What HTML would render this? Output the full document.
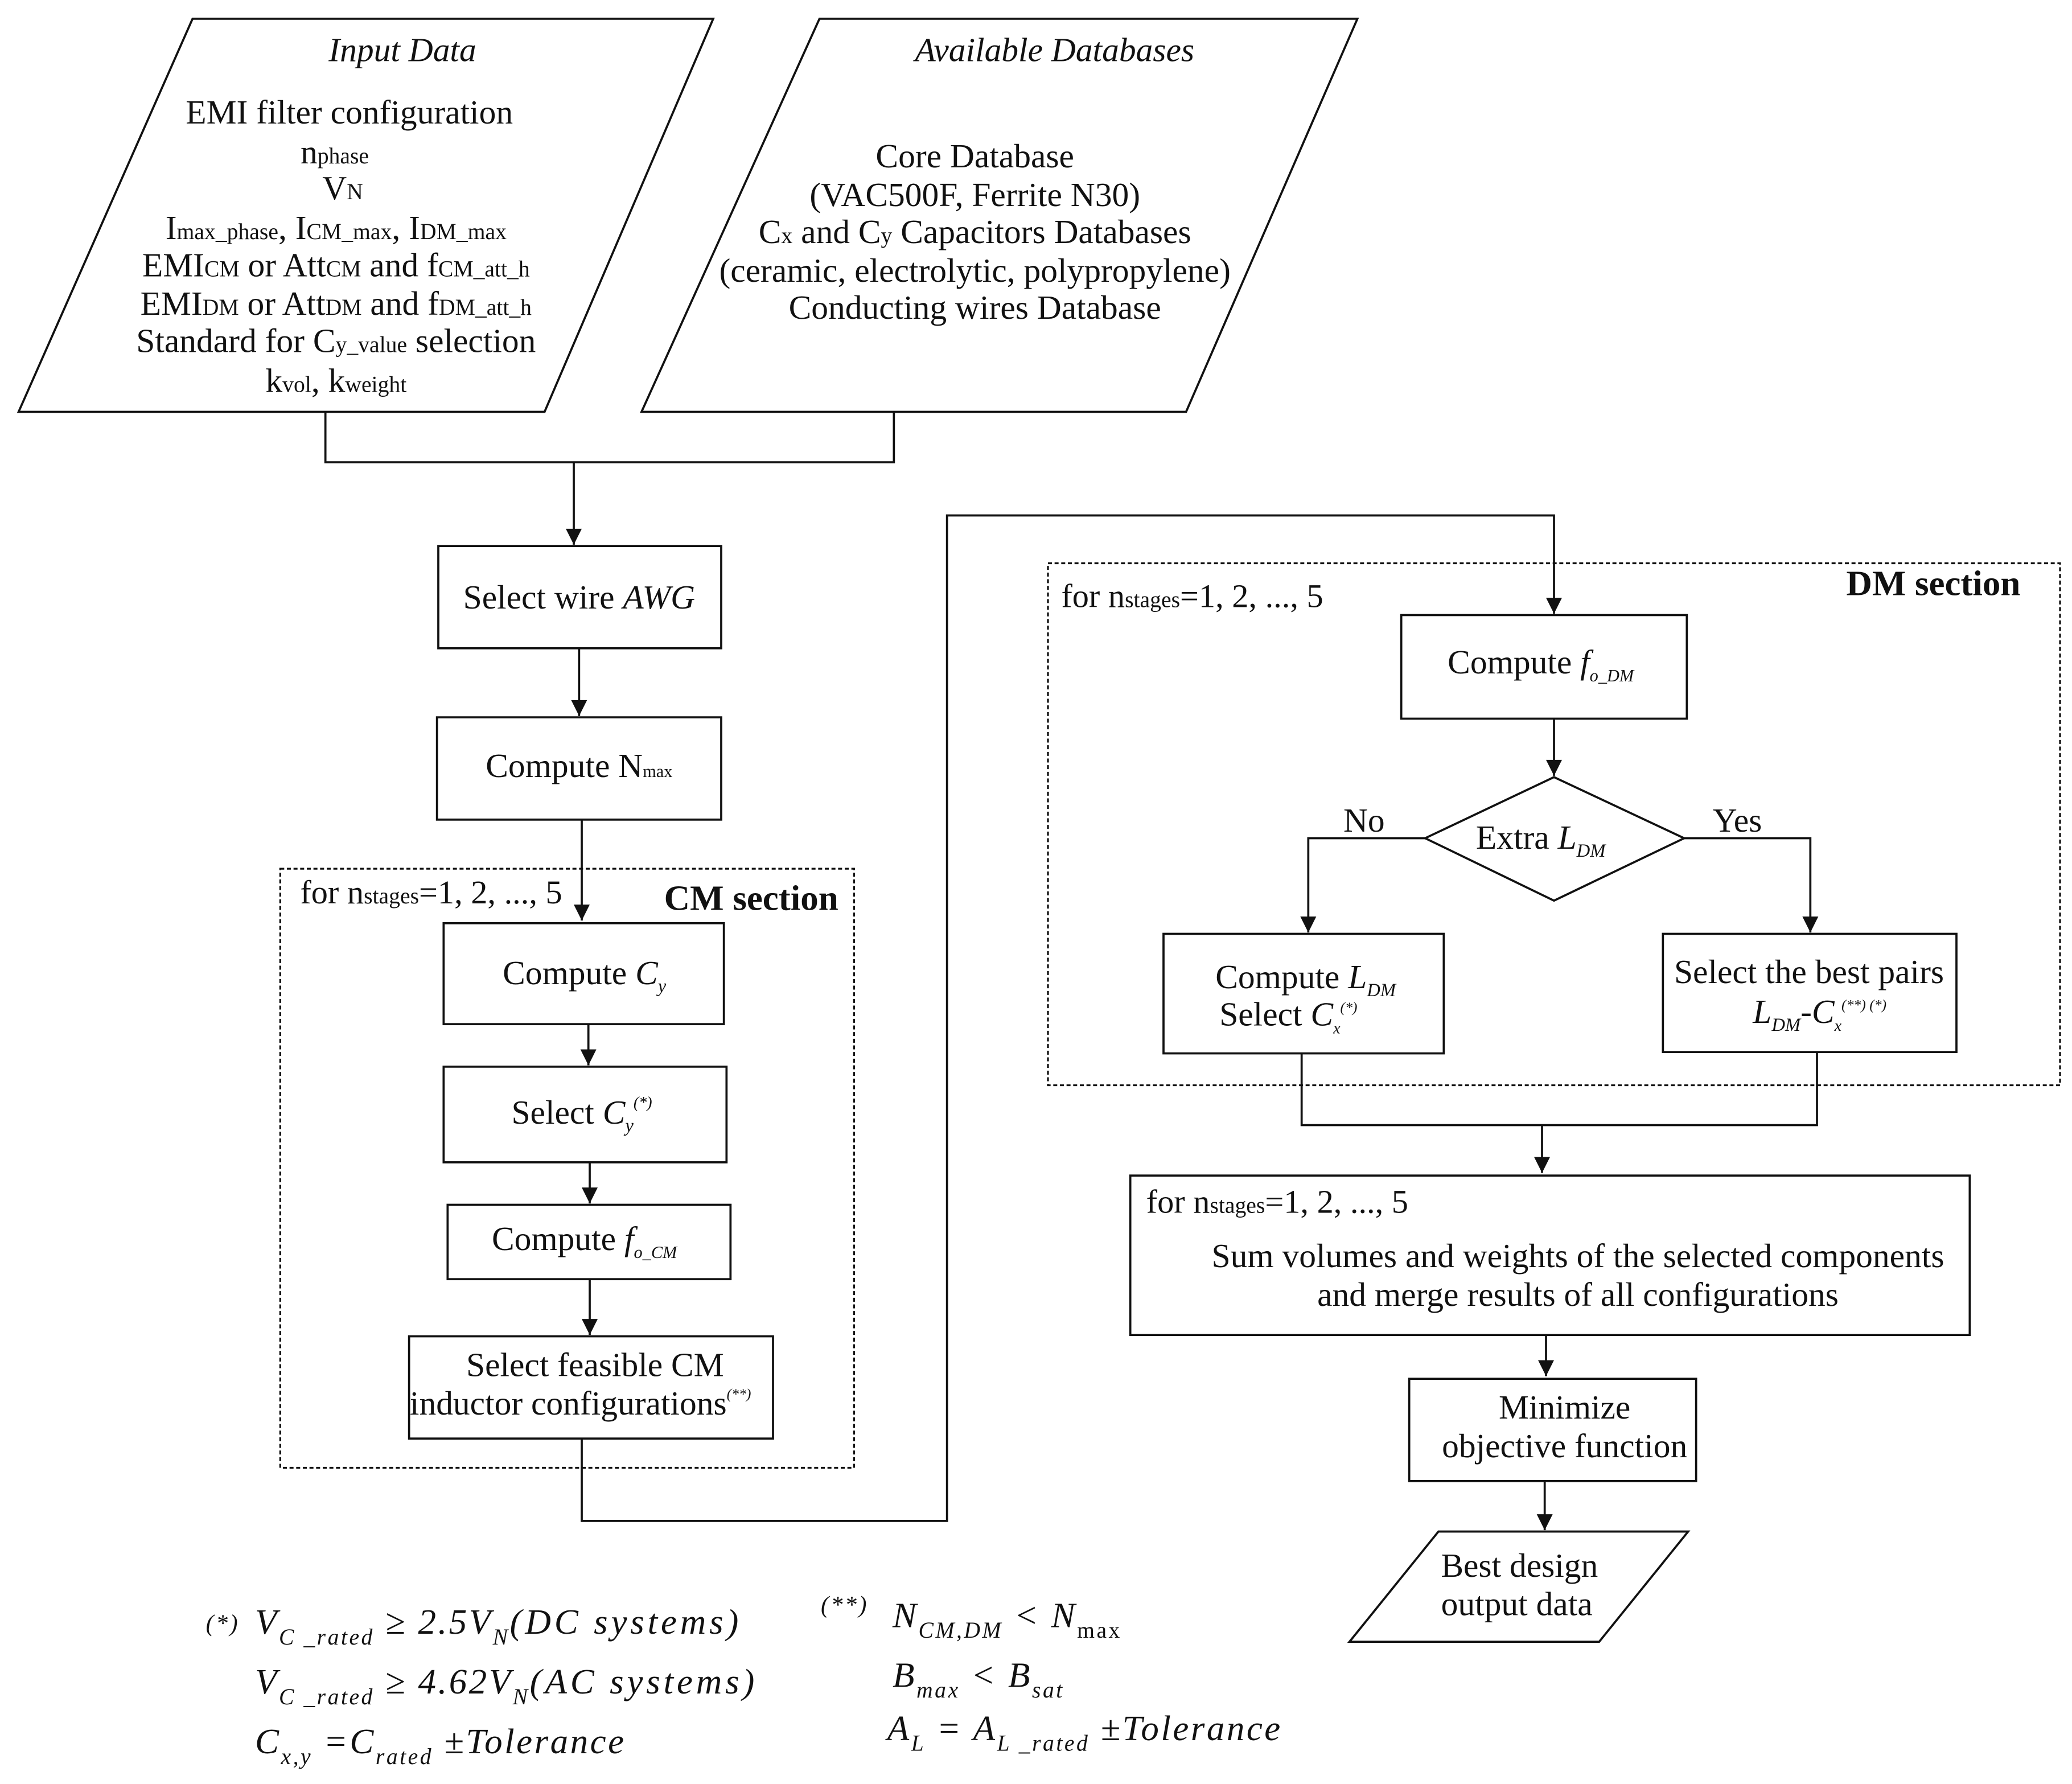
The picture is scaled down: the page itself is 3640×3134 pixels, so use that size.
<!DOCTYPE html>
<html><head><meta charset="utf-8"><style>
html,body{margin:0;padding:0;background:#fff;}
svg{display:block}
text{font-family:"Liberation Serif",serif;fill:#111;}
</style></head><body>
<svg width="3640" height="3134" viewBox="0 0 1560 1343" xmlns="http://www.w3.org/2000/svg">
<defs>
<marker id="b" viewBox="0 0 10 10" refX="10" refY="5" markerWidth="14" markerHeight="12" orient="auto" markerUnits="userSpaceOnUse"><path d="M0,0L10,5L0,10z" fill="#111"/></marker></defs>
<g fill="none" stroke="#111" stroke-width="1.6">
<polygon points="145,14 537,14 410,310 14,310"/>
<polygon points="617,14 1022,14 893,310 483,310"/>
<polyline points="245,310 245,348 673,348 673,310"/>
<line x1="432" y1="348" x2="432" y2="410" marker-end="url(#b)"/>
<rect x="330" y="411" width="213" height="77"/>
<line x1="436" y1="488" x2="436" y2="539" marker-end="url(#b)"/>
<rect x="329" y="540" width="214" height="77"/>
<line x1="438" y1="617" x2="438" y2="693" marker-end="url(#b)"/>
<rect x="211" y="654" width="432" height="451" stroke-dasharray="3,2" stroke-width="1.4"/>
<rect x="334" y="695" width="211" height="76"/>
<line x1="443" y1="771" x2="443" y2="802" marker-end="url(#b)"/>
<rect x="334" y="803" width="213" height="72"/>
<line x1="444" y1="875" x2="444" y2="906" marker-end="url(#b)"/>
<rect x="337" y="907" width="213" height="56"/>
<line x1="444" y1="963" x2="444" y2="1005" marker-end="url(#b)"/>
<rect x="308" y="1006" width="274" height="77"/>
<polyline points="438,1083 438,1145 713,1145 713,388 1170,388 1170,462" marker-end="url(#b)"/>
<rect x="789" y="424" width="762" height="393" stroke-dasharray="3,2" stroke-width="1.4"/>
<rect x="1055" y="463" width="215" height="78"/>
<line x1="1170" y1="541" x2="1170" y2="584" marker-end="url(#b)"/>
<polygon points="1170,585 1268,631 1170,678 1073,631"/>
<polyline points="1073,631 985,631 985,702" marker-end="url(#b)"/>
<polyline points="1268,631 1363,631 1363,702" marker-end="url(#b)"/>
<rect x="876" y="703" width="211" height="90"/>
<rect x="1252" y="703" width="221" height="89"/>
<polyline points="980,793 980,847 1368,847 1368,792"/>
<line x1="1161" y1="847" x2="1161" y2="883" marker-end="url(#b)"/>
<rect x="851" y="885" width="632" height="120"/>
<line x1="1164" y1="1005" x2="1164" y2="1036" marker-end="url(#b)"/>
<rect x="1061" y="1038" width="216" height="77"/>
<line x1="1163" y1="1115" x2="1163" y2="1152" marker-end="url(#b)"/>
<polygon points="1083,1153 1271,1153 1204,1236 1016,1236"/>
</g>
<g font-size="25.5" text-anchor="middle">
<text x="303" y="46" font-style="italic">Input Data</text>
<text x="263" y="93">EMI filter configuration</text>
<text x="252" y="123">n<tspan font-size="17">phase</tspan></text>
<text x="258" y="150">V<tspan font-size="17">N</tspan></text>
<text x="253" y="180">I<tspan font-size="17">max_phase</tspan>, I<tspan font-size="17">CM_max</tspan>, I<tspan font-size="17">DM_max</tspan></text>
<text x="253" y="208">EMI<tspan font-size="17">CM</tspan> or Att<tspan font-size="17">CM</tspan> and f<tspan font-size="17">CM_att_h</tspan></text>
<text x="253" y="237">EMI<tspan font-size="17">DM</tspan> or Att<tspan font-size="17">DM</tspan> and f<tspan font-size="17">DM_att_h</tspan></text>
<text x="253" y="265">Standard for C<tspan font-size="17">y_value</tspan> selection</text>
<text x="253" y="295">k<tspan font-size="17">vol</tspan>, k<tspan font-size="17">weight</tspan></text>
<text x="794" y="46" font-style="italic">Available Databases</text>
<text x="734" y="126">Core Database</text>
<text x="734" y="155">(VAC500F, Ferrite N30)</text>
<text x="734" y="183">C<tspan font-size="17">x</tspan> and C<tspan font-size="17">y</tspan> Capacitors Databases</text>
<text x="734" y="212">(ceramic, electrolytic, polypropylene)</text>
<text x="734" y="240">Conducting wires Database</text>
<text x="436" y="458">Select wire <tspan font-style="italic">AWG</tspan></text>
<text x="436" y="585">Compute N<tspan font-size="13">max</tspan></text>
<text x="440" y="741">Compute <tspan font-style="italic">C<tspan font-size="14" dy="6">y</tspan></tspan></text>
<text x="438" y="846">Select <tspan font-style="italic">C<tspan font-size="14" dy="6">y</tspan><tspan font-size="12" dy="-18">(*)</tspan></tspan></text>
<text x="440" y="941">Compute <tspan font-style="italic">f<tspan font-size="13" dy="6">o_CM</tspan></tspan></text>
<text x="448" y="1036">Select feasible CM</text>
<text x="437" y="1065">inductor configurations<tspan font-size="11" font-style="italic" dy="-12">(**)</tspan></text>
<text x="1160" y="507">Compute <tspan font-style="italic">f<tspan font-size="13" dy="6">o_DM</tspan></tspan></text>
<text x="1160" y="639">Extra  <tspan font-style="italic">L<tspan font-size="14" dy="6">DM</tspan></tspan></text>
<text x="1027" y="626">No</text>
<text x="1308" y="626">Yes</text>
<text x="983" y="744">Compute  <tspan font-style="italic">L<tspan font-size="14" dy="6">DM</tspan></tspan></text>
<text x="970" y="772">Select <tspan font-style="italic">C<tspan font-size="12" dy="6">x</tspan><tspan font-size="11" dy="-16">(*)</tspan></tspan></text>
<text x="1362" y="740">Select the best pairs</text>
<text x="1370" y="770" font-style="italic">L<tspan font-size="14" dy="6">DM</tspan><tspan dy="-6">-C</tspan><tspan font-size="12" dy="6">x</tspan><tspan font-size="11" dy="-16">(**) (*)</tspan></text>
<text x="1188" y="954">Sum volumes and weights of the selected components</text>
<text x="1188" y="983">and merge results of all configurations</text>
<text x="1178" y="1068">Minimize</text>
<text x="1178" y="1097">objective function</text>
<text x="1144" y="1187">Best design</text>
<text x="1142" y="1216">output data</text>
</g>
<g font-size="25">
<text x="226" y="680">for n<tspan font-size="17">stages</tspan>=1, 2, ..., 5</text>
<text x="500" y="685" font-weight="bold" font-size="27">CM section</text>
<text x="799" y="457">for n<tspan font-size="17">stages</tspan>=1, 2, ..., 5</text>
<text x="1390" y="448" font-weight="bold" font-size="27">DM section</text>
<text x="863" y="913">for n<tspan font-size="17">stages</tspan>=1, 2, ..., 5</text>
</g>
<g font-size="27" font-style="italic" letter-spacing="1.5">
<text x="155" y="1228" font-size="18">(*)</text>
<text x="192" y="1230">V<tspan font-size="17" dy="8">C _rated</tspan><tspan dy="-8"> ≥ 2.5V</tspan><tspan font-size="17" dy="8">N</tspan><tspan dy="-8" letter-spacing="2.5">(DC systems)</tspan></text>
<text x="192" y="1275">V<tspan font-size="17" dy="8">C _rated</tspan><tspan dy="-8"> ≥ 4.62V</tspan><tspan font-size="17" dy="8">N</tspan><tspan dy="-8" letter-spacing="2.5">(AC systems)</tspan></text>
<text x="192" y="1320">C<tspan font-size="17" dy="8">x,y</tspan><tspan dy="-8"> =C</tspan><tspan font-size="17" dy="8">rated</tspan><tspan dy="-8"> ±Tolerance</tspan></text>
<text x="618" y="1214" font-size="18">(**)</text>
<text x="672" y="1225">N<tspan font-size="17" dy="8">CM,DM</tspan><tspan dy="-8"> &lt; N</tspan><tspan font-size="17" dy="8" font-style="normal">max</tspan></text>
<text x="672" y="1270">B<tspan font-size="17" dy="8">max</tspan><tspan dy="-8"> &lt; B</tspan><tspan font-size="17" dy="8">sat</tspan></text>
<text x="668" y="1310">A<tspan font-size="17" dy="8">L</tspan><tspan dy="-8"> = A</tspan><tspan font-size="17" dy="8">L _rated</tspan><tspan dy="-8"> ±Tolerance</tspan></text>
</g>
</svg>
</body></html>
